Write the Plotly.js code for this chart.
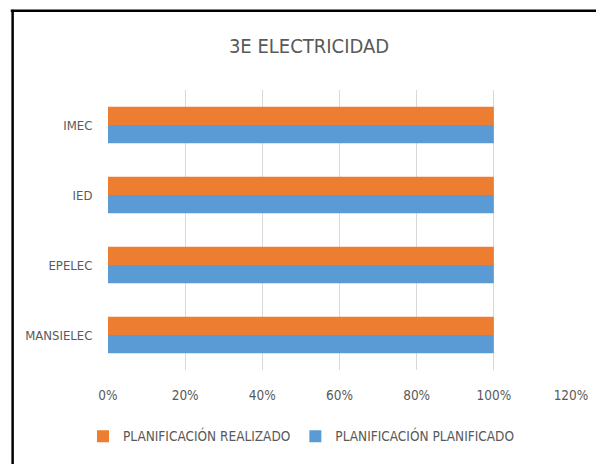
<!DOCTYPE html>
<html><head><meta charset="utf-8">
<script src="https://cdn.plot.ly/plotly-3.0.1.min.js"></script>
<style>html,body{margin:0;padding:0;background:#fff;}#chart{width:596px;height:464px;}</style>
</head><body><div id="chart"></div>
<script>
const categories = ['MANSIELEC','EPELEC','IED','IMEC'];
const realizado = [1.0, 1.0, 1.0, 1.0];
const planificado = [1.0, 1.0, 1.0, 1.0];
const seriesNames = ['PLANIFICACIÓN REALIZADO','PLANIFICACIÓN PLANIFICADO'];
const xTicks = [0, 0.2, 0.4, 0.6, 0.8, 1.0, 1.2];

const FONT = '"DejaVu Sans Condensed", "DejaVu Sans", Arial, sans-serif';
const traces = [
  {type:'bar', orientation:'h', y:categories, x:planificado, name:seriesNames[1],
   marker:{color:'#5B9BD5'}, hoverinfo:'skip'},
  {type:'bar', orientation:'h', y:categories, x:realizado, name:seriesNames[0],
   marker:{color:'#ED7D31'}, hoverinfo:'skip'}
];
const layout = {
  width:596, height:464,
  margin:{l:108, r:24.5, t:90, b:91},
  paper_bgcolor:'#fff', plot_bgcolor:'#fff',
  font:{family:FONT, color:'#595959', size:13.5},
  title:{text:'3E ELECTRICIDAD', font:{family:FONT, size:20, color:'#595959'},
         xref:'container', x:0.5185, xanchor:'center', yref:'container', y:0.9, yanchor:'middle'},
  barmode:'group', bargap:0.48, bargroupgap:0,
  xaxis:{range:[0,1.2], tickvals:xTicks, tickformat:'.0%', showgrid:true, gridcolor:'#D9D9D9', gridwidth:1,
         zeroline:false, showline:false, ticks:'outside', ticklen:13, tickcolor:'rgba(0,0,0,0)', fixedrange:true},
  yaxis:{type:'category', categoryorder:'array', categoryarray:categories, showgrid:false, zeroline:false,
         showline:false, ticks:'outside', ticklen:12, tickcolor:'rgba(0,0,0,0)', fixedrange:true,
         tickfont:{size:13}},
  showlegend:true,
  legend:{orientation:'h', traceorder:'reversed', x:-0.054, xanchor:'left', y:-0.237, yanchor:'middle',
          font:{family:FONT, size:13.5, color:'#595959'}, itemwidth:30},
  shapes:[
    {type:'line', xref:'paper', yref:'paper', x0:-0.21, x1:1.2, y0:1.2827, y1:1.2827, line:{color:'#000', width:2.5}},
    {type:'line', xref:'paper', yref:'paper', x0:-0.206, x1:-0.206, y0:-0.4, y1:1.287, line:{color:'#000', width:2.5}}
  ]
};
Plotly.newPlot('chart', traces, layout, {displayModeBar:false, staticPlot:true});
</script></body></html>
